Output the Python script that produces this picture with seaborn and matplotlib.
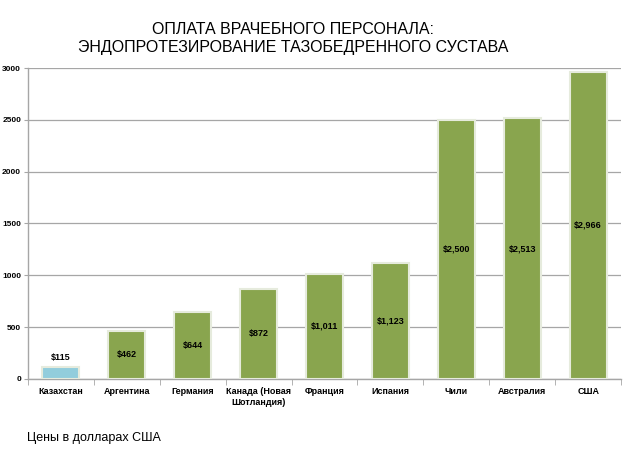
import matplotlib
matplotlib.use("Agg")
import matplotlib.pyplot as plt
import seaborn as sns
import pandas as pd

countries = ["Казахстан", "Аргентина", "Германия", "Канада (Новая\nШотландия)",
             "Франция", "Испания", "Чили", "Австралия", "США"]
values = [115, 462, 644, 872, 1011, 1123, 2500, 2513, 2966]
labels = ["$115", "$462", "$644", "$872", "$1,011", "$1,123", "$2,500", "$2,513", "$2,966"]
colors = ["#92CDDC"] + ["#89A54E"] * 8

sns.set_style("white")
plt.rcParams["font.family"] = ["Liberation Sans", "DejaVu Sans"]
plt.rcParams["text.color"] = "black"
small_font = ["Liberation Sans", "DejaVu Sans"]

df = pd.DataFrame({"country": countries, "value": values})

fig = plt.figure(figsize=(6.33, 4.66), dpi=100)
ax = fig.add_axes([0.0442, 0.187, 0.937, 0.667])

sns.barplot(data=df, x="country", y="value", hue="country", palette=colors,
            saturation=1, legend=False, width=0.56, edgecolor="#E6EBDD",
            linewidth=1.5, ax=ax, zorder=3)

for i, (v, lab) in enumerate(zip(values, labels)):
    if v < 300:
        ax.text(i, v + 45, lab, ha="center", va="bottom", fontsize=6.5,
                fontweight="bold", family=small_font, color="black")
    else:
        ax.text(i, v / 2, lab, ha="center", va="center", fontsize=6.5,
                fontweight="bold", family=small_font, color="black", zorder=4)

ax.set_ylim(0, 3000)
ax.set_xlim(-0.5, len(countries) - 0.5)
ax.set_yticks(range(0, 3001, 500))
ax.yaxis.grid(True, color="#A6A6A6", linewidth=0.9, zorder=0)
ax.set_xlabel("")
ax.set_ylabel("")

for s in ["top", "right"]:
    ax.spines[s].set_visible(False)
for s in ["bottom", "left"]:
    ax.spines[s].set_color("#A6A6A6")
    ax.spines[s].set_linewidth(1.0)

ax.set_xticks([i - 0.5 for i in range(len(countries) + 1)], minor=True)
ax.tick_params(axis="x", which="minor", length=4, color="#A6A6A6", bottom=True)
ax.tick_params(axis="x", which="major", length=0, pad=6, labelcolor="black")
ax.tick_params(axis="y", length=3, color="#A6A6A6", left=True, pad=2, labelcolor="black")
for t in ax.get_xticklabels():
    t.set_fontsize(6.5)
    t.set_fontweight("bold")
    t.set_family(small_font)
for t in ax.get_yticklabels():
    t.set_fontsize(6)
    t.set_fontweight("bold")
    t.set_family(small_font)

fig.text(0.463, 0.917, "ОПЛАТА ВРАЧЕБНОГО ПЕРСОНАЛА:\nЭНДОПРОТЕЗИРОВАНИЕ ТАЗОБЕДРЕННОГО СУСТАВА",
         ha="center", va="center", fontsize=11.5, linespacing=1.25)
fig.text(0.043, 0.06, "Цены в долларах США", ha="left", va="center", fontsize=9)

fig.savefig("out.png", dpi=100)
